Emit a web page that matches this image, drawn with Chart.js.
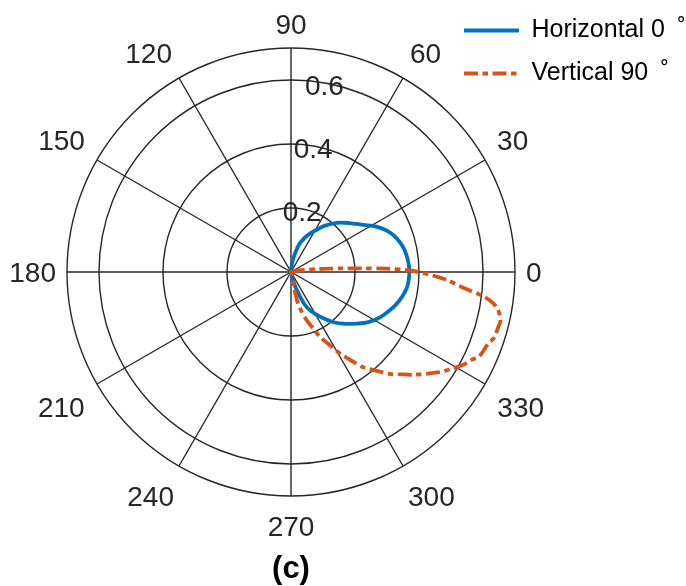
<!DOCTYPE html>
<html>
<head>
<meta charset="utf-8">
<title>Polar pattern (c)</title>
<script src="https://cdn.jsdelivr.net/npm/chart.js@4.4.1/dist/chart.umd.min.js"></script>
<style>
  html, body { margin: 0; padding: 0; background: #ffffff; }
  #wrap { width: 686px; height: 586px; }
</style>
</head>
<body>
<div id="wrap"><canvas id="polar" width="686" height="586"></canvas></div>
<script>
// Angular position of each sample (degrees, counter-clockwise from east) and its radius.
const horizontalAngles = [90, 84, 80, 74, 68, 63, 58, 54, 47, 40, 33, 28, 21, 13, 6, 0,
  -8, -17, -27, -33, -38, -45, -50, -57, -63, -67, -71, -76, -82];
const horizontalRadius = [0, 0.02, 0.045, 0.087, 0.117, 0.137, 0.158, 0.178, 0.21, 0.238, 0.27, 0.302, 0.336, 0.358, 0.367, 0.370,
  0.365, 0.344, 0.312, 0.288, 0.262, 0.228, 0.204, 0.167, 0.137, 0.112, 0.07, 0.03, 0];

const verticalAngles = [14, 12, 9, 6, 5, 4, 3, 2, 1, 0, -1, -2, -3, -5, -7, -8, -10, -13, -15, -18, -20,
  -24, -26, -28, -32, -34, -40, -42, -46, -48, -53, -55, -59, -62, -66, -68, -72, -76, -78, -79, -80];
const verticalRadius = [0, 0.02, 0.04, 0.09, 0.12, 0.165, 0.22, 0.30, 0.36, 0.40, 0.43, 0.46, 0.49, 0.535, 0.60, 0.625, 0.655, 0.672, 0.670, 0.667, 0.655,
  0.645, 0.627, 0.614, 0.578, 0.56, 0.50, 0.478, 0.443, 0.42, 0.372, 0.345, 0.298, 0.259, 0.222, 0.195, 0.158, 0.117, 0.09, 0.04, 0];

const seriesNames = ['Horizontal 0\u2002\u02DA', 'Vertical 90\u2002\u02DA'];
const angleTicks = [0, 30, 60, 90, 120, 150, 180, 210, 240, 270, 300, 330];
const radialTicks = [0.2, 0.4, 0.6];
const radialMax = 0.7;

// One radar slot per degree; slot 0 points up and slots run clockwise.
const SLOTS = 360;
const slotOf = (deg) => (((90 - deg) % 360) + 360) % 360;
const slotLabels = Array.from({ length: SLOTS }, (_, i) => String((90 - i + 360) % 360));

function toSlots(angles, radii) {
  const out = new Array(SLOTS).fill(null);
  angles.forEach((a, k) => { out[slotOf(a)] = radii[k]; });
  return out;
}

const FONT = '"Liberation Sans", Arial, Helvetica, sans-serif';
const AXIS_COLOR = '#262626';
const LABEL_SIZE = 28;

const polarText = {
  id: 'polarText',
  afterLayout(chart) {
    // legend sits in the upper-right corner, over the plot box
    const lg = chart.legend;
    if (!lg) return;
    const w = lg.width;
    lg.left = 446;
    lg.top = 0;
    lg.right = lg.left + w;
    lg.bottom = lg.top + 200;
  },
  afterDraw(chart) {
    const r = chart.scales.r;
    const ctx = chart.ctx;
    const capH = LABEL_SIZE * 0.716;
    ctx.save();
    ctx.fillStyle = AXIS_COLOR;
    ctx.font = LABEL_SIZE + 'px ' + FONT;
    ctx.textBaseline = 'alphabetic';
    // angle labels: the text box corner nearest the circle sits just outside it
    angleTicks.forEach((a) => {
      const dir = r.getPointPosition(slotOf(a), r.drawingArea);
      const dx = dir.x - r.xCenter;
      const dy = dir.y - r.yCenter;
      const upper = dy < -1, lower = dy > 1;
      const side = Math.abs(dx) > 1;
      const gap = upper ? 14 : (lower ? 20 : 11);
      const p = r.getPointPosition(slotOf(a), r.drawingArea + gap);
      let x = p.x;
      let y = upper ? p.y : (lower ? p.y + capH : p.y + capH / 2);
      if (upper && side) y -= 3;
      if (lower && side) { y += 3; x -= Math.sign(dx) * 5; }
      ctx.textAlign = dx > 1 ? 'left' : (dx < -1 ? 'right' : 'center');
      ctx.fillText(String(a), x, y);
    });
    // radial tick labels along the 80 degree direction
    ctx.textAlign = 'center';
    ctx.textBaseline = 'middle';
    radialTicks.forEach((v) => {
      const p = r.getPointPosition(slotOf(80), r.getDistanceFromCenterForValue(v));
      ctx.fillText(v.toFixed(1), p.x, p.y + 4);
    });
    ctx.restore();
  }
};

Chart.defaults.font.family = FONT;

new Chart(document.getElementById('polar'), {
  type: 'radar',
  data: {
    labels: slotLabels,
    datasets: [
      {
        label: seriesNames[0],
        data: toSlots(horizontalAngles, horizontalRadius),
        borderColor: '#0072BD',
        backgroundColor: 'rgba(0,0,0,0)',
        borderWidth: 3.8,
        fill: false,
        pointRadius: 0,
        pointHoverRadius: 0,
        tension: 0.35,
        spanGaps: true,
        order: 1
      },
      {
        label: seriesNames[1],
        data: toSlots(verticalAngles, verticalRadius),
        borderColor: '#D95319',
        backgroundColor: 'rgba(0,0,0,0)',
        borderWidth: 3.8,
        borderDash: [14, 4.5, 5.5, 4.5],
        fill: false,
        pointRadius: 0,
        pointHoverRadius: 0,
        tension: 0.3,
        spanGaps: true,
        order: 0
      }
    ]
  },
  options: {
    responsive: false,
    devicePixelRatio: 1,
    animation: false,
    events: [],
    layout: { padding: { left: 67, right: 171, top: 48, bottom: 1 } },
    scales: {
      r: {
        min: 0,
        max: radialMax,
        startAngle: 0,
        ticks: { display: false, stepSize: 0.2 },
        grid: { circular: true, color: AXIS_COLOR, lineWidth: 1.4 },
        angleLines: {
          color: AXIS_COLOR,
          lineWidth: (c) => (c.index % 30 === 0 ? 1.4 : 0)
        },
        pointLabels: { display: false }
      }
    },
    plugins: {
      tooltip: { enabled: false },
      legend: {
        position: 'chartArea',
        align: 'start',
        labels: {
          usePointStyle: true,
          pointStyle: 'line',
          pointStyleWidth: 55,
          padding: 18,
          color: '#000000',
          font: { size: 25, family: FONT },
          sort: (a, b) => a.datasetIndex - b.datasetIndex,
          generateLabels(chart) {
            // keep each series' own stroke (width and dash) in its legend sample
            const items = Chart.defaults.plugins.legend.labels.generateLabels(chart);
            items.forEach((it) => {
              const ds = chart.data.datasets[it.datasetIndex];
              it.lineDash = ds.borderDash || [];
              it.lineWidth = ds.borderWidth;
              it.strokeStyle = ds.borderColor;
            });
            return items;
          }
        }
      },
      title: {
        display: true,
        position: 'bottom',
        text: '(c)',
        color: '#000000',
        font: { size: 31, weight: 'bold', family: FONT, lineHeight: 1 },
        padding: { top: 58, bottom: 0 }
      }
    }
  },
  plugins: [polarText]
});
</script>
</body>
</html>
